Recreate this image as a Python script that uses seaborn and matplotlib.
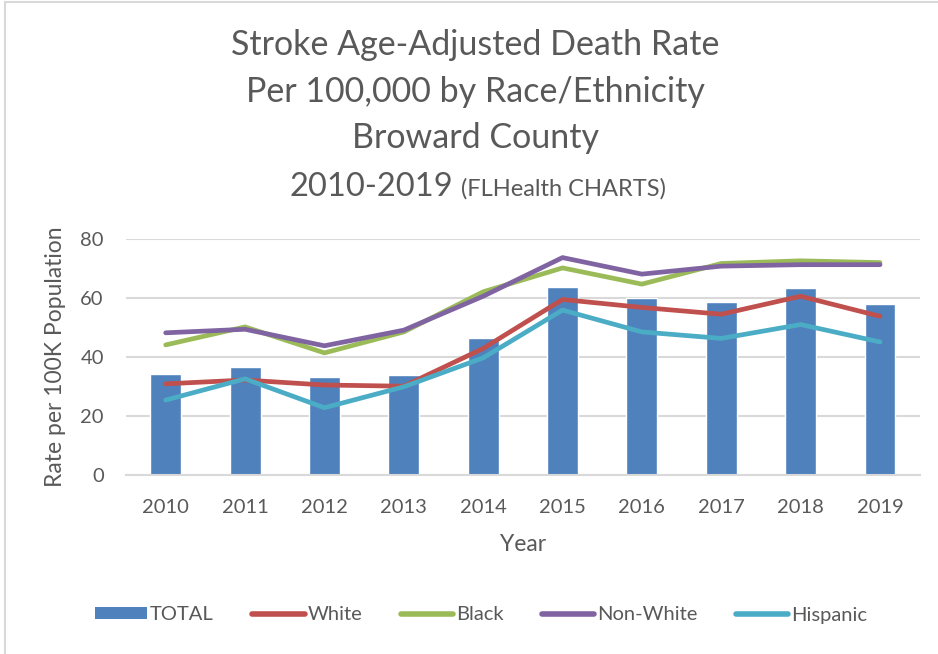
import matplotlib
matplotlib.use("Agg")
import matplotlib.pyplot as plt
import seaborn as sns
import numpy as np
import pandas as pd
from matplotlib.lines import Line2D
from matplotlib.patches import Patch, Rectangle

years = ["2010", "2011", "2012", "2013", "2014", "2015", "2016", "2017", "2018", "2019"]
total = [34.1, 36.6, 33.2, 33.9, 46.6, 63.8, 60.0, 58.7, 63.4, 58.0]
white = [30.9, 32.2, 30.5, 30.1, 42.9, 59.5, 56.8, 54.5, 60.6, 53.8]
black = [44.1, 50.2, 41.4, 48.5, 62.1, 70.2, 64.7, 71.7, 72.6, 72.0]
non_white = [48.2, 49.4, 43.8, 49.1, 60.6, 73.7, 68.1, 70.8, 71.3, 71.3]
hispanic = [25.4, 32.6, 22.8, 29.9, 39.7, 55.9, 48.5, 46.3, 51.0, 45.1]

series = [("White", white, "#C0504D"),
          ("Black", black, "#9BBB59"),
          ("Non-White", non_white, "#8064A2"),
          ("Hispanic", hispanic, "#4BACC6")]
bar_color = "#4F81BD"
text_color = "#595959"
grid_color = "#D9D9D9"

sns.set_style("white")
plt.rcParams['font.family'] = ['Lato', 'DejaVu Sans']

fig = plt.figure(figsize=(9.38, 6.54), dpi=100)
ax = fig.add_axes([126 / 938, 1 - 475 / 654, (919.7 - 126) / 938, (475 - 239) / 654])

df = pd.DataFrame({"Year": years, "TOTAL": total})
sns.barplot(data=df, x="Year", y="TOTAL", color=bar_color, width=0.39,
            saturation=1, ax=ax, zorder=2)

pos = np.arange(len(years))
for name, vals, col in series:
    sns.lineplot(x=pos, y=vals, color=col, linewidth=3.4, ax=ax, zorder=3,
                 solid_capstyle="round", solid_joinstyle="round")

ax.set_ylim(0, 80)
ax.set_xlim(-0.5, len(years) - 0.5)
ax.set_yticks([0, 20, 40, 60, 80])
ax.yaxis.grid(True, color=grid_color, linewidth=1.5, zorder=0)
ax.set_axisbelow(True)
for s in ["top", "right", "left"]:
    ax.spines[s].set_visible(False)
ax.spines["bottom"].set_color(grid_color)
ax.spines["bottom"].set_linewidth(1.5)
ax.tick_params(axis="both", length=0, labelsize=14.5, labelcolor=text_color)
ax.tick_params(axis="y", pad=16)
ax.tick_params(axis="x", pad=17)
ax.set_xlabel("Year", fontsize=16.5, color=text_color, labelpad=13)
ax.set_ylabel("Rate per 100K Population", fontsize=16.5, color=text_color, labelpad=10)

# title
title_lines = ["Stroke Age-Adjusted Death Rate", "Per 100,000 by Race/Ethnicity", "Broward County"]
baselines = [55, 102, 148]
for t, b in zip(title_lines, baselines):
    fig.text(475 / 938, 1 - b / 654, t, ha="center", va="baseline",
             fontsize=24.5, color=text_color)
fig.text(453 / 938, 1 - 196 / 654, "2010-2019", ha="right", va="baseline",
         fontsize=23.5, color=text_color)
fig.text(461 / 938, 1 - 196 / 654, "(FLHealth CHARTS)", ha="left", va="baseline",
         fontsize=17, color=text_color)

# legend
handles = [Patch(facecolor=bar_color, edgecolor="none", label="TOTAL")]
for name, vals, col in series:
    handles.append(Line2D([0], [0], color=col, linewidth=4, solid_capstyle="round", label=name))
leg = fig.legend(handles=handles, loc="center", ncol=5, frameon=False,
                 bbox_to_anchor=(481 / 938, 1 - 615 / 654), fontsize=14.5,
                 handlelength=2.6, handleheight=0.55, handletextpad=0.15,
                 columnspacing=1.9)
for t in leg.get_texts():
    t.set_color(text_color)

# chart border
fig.patches.append(Rectangle((5 / 938, -0.1), 1.2, 1 - 2 / 654 + 0.1, transform=fig.transFigure,
                             fill=False, edgecolor="#D9D9D9", linewidth=1.5))

fig.savefig("out.png", dpi=100)
